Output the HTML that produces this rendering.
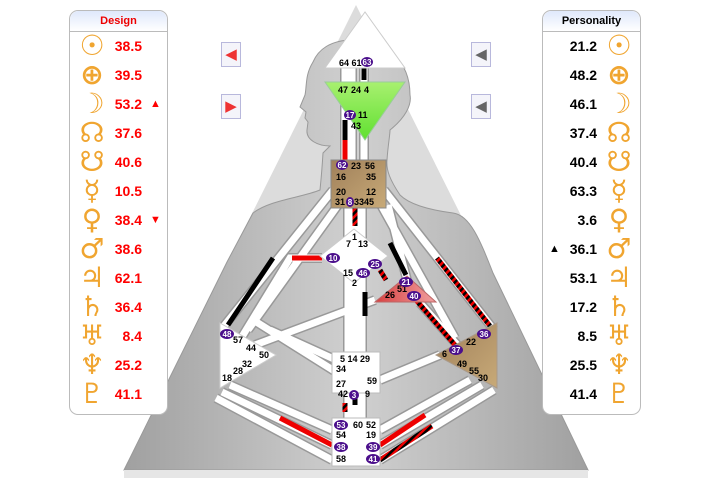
<!DOCTYPE html>
<html><head><meta charset="utf-8"><style>
body{margin:0;width:727px;height:488px;background:#fff;overflow:hidden;position:relative;font-family:"Liberation Sans",sans-serif}
.panel{position:absolute;top:10px;width:97px;height:403px;border:1px solid #bbb;border-radius:9px;background:#fff;z-index:2}
.panel .hd{height:20px;border-bottom:1px solid #bbb;border-radius:9px 9px 0 0;background:linear-gradient(#dfe8fb,#fff);font-size:11px;font-weight:bold;text-align:center;line-height:20px}
.row{position:absolute;height:29px;line-height:29px;font-weight:bold;font-size:14px;width:97px}
.g{position:absolute;color:#f0a530;font-family:"DejaVu Sans",sans-serif;font-weight:bold;font-size:28px;top:-1px;width:26px;text-align:center}
.n{position:absolute;text-align:right;width:50px}
.btn{position:absolute;width:18px;height:23px;border:1px solid #b8b8dc;background:#f4f4fa;font-size:15px;line-height:23px;text-align:center}
</style></head><body>
<svg width="727" height="488" style="position:absolute;left:0;top:0">
<defs>
<linearGradient id="bg" x1="0" x2="1"><stop offset="0" stop-color="#a0a0a0"/><stop offset=".5" stop-color="#d0d0d0"/><stop offset="1" stop-color="#a0a0a0"/></linearGradient>
<linearGradient id="tan" x1="0" y1="0" x2="1" y2="1"><stop offset="0" stop-color="#a0805a"/><stop offset="1" stop-color="#c8aa78"/></linearGradient>
<linearGradient id="grn" x1="0" y1="0" x2="0" y2="1"><stop offset="0" stop-color="#a8f070"/><stop offset="1" stop-color="#60e030"/></linearGradient>
<linearGradient id="ego" x1="0" x2="1"><stop offset="0" stop-color="#d84040"/><stop offset="1" stop-color="#f0a0a0"/></linearGradient>
<pattern id="st" width="5" height="5" patternUnits="userSpaceOnUse" patternTransform="rotate(45)"><rect width="5" height="5" fill="#e00"/><rect width="2.5" height="5" fill="#000"/></pattern>
</defs>
<polygon points="356,5 124,470 588,470" fill="#dcdcdc"/>
<path d="M330,146 L323,153 C322,170 321,180 320,190 C300,198 270,200 253,213 L227,262 L124,470 L588,470 L493,273 C480,240 470,215 453,213 C430,210 410,205 400,195 C390,180 386,170 387,160 C388,145 390,135 390,130 C405,118 412,105 410,95 C410,60 385,40 353,40 C330,40 318,50 313,62 C305,75 307,85 305,95 L300,107 L306,112 L305,118 L308,122 L307,130 C306,140 318,146 330,146 Z" fill="url(#bg)" stroke="#999" stroke-width="1"/>
<rect x="124" y="470" width="464" height="8" fill="#e6e6e6"/>
<g stroke-linecap="butt" fill="none">
<g stroke="#999" stroke-width="10">
<path d="M345,68V160M352,68V160M364,68V160M348,208V240M355,208V235M362,208V240M348,270V352M355,270V352M362,270V352M333,190L224,326M338,205L248,330M384,190L494,330M381,205L455,338M388,205L407,280M420,303L460,348M375,300L255,345M250,318L336,372M380,380L440,355M322,258L290,258L240,340M348,393V418M355,393V418M362,393V418M332,430L230,385M332,445L222,392M332,460L216,398M380,430L470,380M380,445L482,385M380,460L494,390M270,330L336,360"/>
</g>
<g stroke="#fff" stroke-width="7">
<path d="M345,68V160M352,68V160M364,68V160M348,208V240M355,208V235M362,208V240M348,270V352M355,270V352M362,270V352M333,190L224,326M338,205L248,330M384,190L494,330M381,205L455,338M388,205L407,280M420,303L460,348M375,300L255,345M250,318L336,372M380,380L440,355M322,258L290,258L240,340M348,393V418M355,393V418M362,393V418M332,430L230,385M332,445L222,392M332,460L216,398M380,430L470,380M380,445L482,385M380,460L494,390M270,330L336,360"/>
</g>
<path d="M364,68V80" stroke="#000" stroke-width="5"/>
<path d="M345,120V140" stroke="#000" stroke-width="5"/>
<path d="M345,140V160" stroke="#e00" stroke-width="5"/>
<path d="M355,208V226" stroke="url(#st)" stroke-width="5"/>
<path d="M273,258L228,325" stroke="#000" stroke-width="5"/>
<path d="M322,258H292" stroke="#e00" stroke-width="5"/>
<path d="M437,258L490,326" stroke="url(#st)" stroke-width="5"/>
<path d="M390,243L406,275" stroke="#000" stroke-width="5"/>
<path d="M380,270L386,280" stroke="url(#st)" stroke-width="5"/>
<path d="M416,300L455,345" stroke="url(#st)" stroke-width="5"/>
<path d="M365,292V316" stroke="#000" stroke-width="5"/>
<path d="M355,393V405" stroke="#000" stroke-width="5"/>
<path d="M345,403V412" stroke="url(#st)" stroke-width="5"/>
<path d="M332,445L280,418" stroke="#e00" stroke-width="5"/>
<path d="M380,445L425,415" stroke="#e00" stroke-width="5"/>
<path d="M380,460L432,426" stroke="url(#st)" stroke-width="5"/>
</g>
<polygon points="365,12 325,68 405,68" fill="#fff" stroke="#ccc"/>
<polygon points="325,82 405,82 365,140" fill="url(#grn)" stroke="#9c9"/>
<rect x="331" y="160" width="55" height="48" fill="url(#tan)" stroke="#888"/>
<polygon points="354,229 388,256 354,283 320,256" fill="#fff" stroke="#ccc"/>
<polygon points="407,276 375,302 436,302" fill="url(#ego)" stroke="#b66"/>
<polygon points="220,323 276,355 220,388" fill="#fff" stroke="#ccc"/>
<polygon points="497,323 436,355 497,388" fill="url(#tan)" stroke="#a98"/>
<rect x="332" y="352" width="48" height="41" fill="#fff" stroke="#bbb"/>
<rect x="332" y="418" width="48" height="48" fill="#fff" stroke="#bbb"/>
<g font-family="Liberation Sans" font-size="9" font-weight="bold" fill="#000">
<text x="339" y="66">64 61</text>
<text x="338" y="93">47</text><text x="351" y="93">24</text><text x="364" y="93">4</text>
<text x="358" y="118">11</text><text x="351" y="129">43</text>
<text x="351" y="169">23</text><text x="365" y="169">56</text><text x="336" y="180">16</text><text x="366" y="180">35</text>
<text x="336" y="195">20</text><text x="366" y="195">12</text><text x="335" y="205">31</text><text x="354" y="205">3345</text>
<text x="352" y="240">1</text><text x="346" y="247">7</text><text x="358" y="247">13</text>
<text x="343" y="276">15</text><text x="352" y="286">2</text>
<text x="397" y="292">51</text><text x="385" y="298">26</text>
<text x="233" y="343">57</text><text x="246" y="351">44</text><text x="259" y="358">50</text>
<text x="242" y="367">32</text><text x="233" y="374">28</text><text x="222" y="381">18</text>
<text x="466" y="345">22</text><text x="442" y="357">6</text><text x="457" y="367">49</text><text x="469" y="374">55</text><text x="478" y="381">30</text>
<text x="340" y="362">5 14 29</text><text x="336" y="372">34</text><text x="336" y="387">27</text><text x="367" y="384">59</text>
<text x="338" y="397">42</text><text x="365" y="397">9</text>
<text x="353" y="428">60</text><text x="366" y="428">52</text><text x="336" y="438">54</text><text x="366" y="438">19</text><text x="336" y="462">58</text>
</g>
<g fill="#4b0f8c"><ellipse cx="367" cy="62" rx="6" ry="5"/><ellipse cx="350" cy="115" rx="6" ry="5"/><ellipse cx="342" cy="165" rx="6" ry="5"/><ellipse cx="350" cy="202" rx="4" ry="5"/><ellipse cx="333" cy="258" rx="7" ry="5"/><ellipse cx="375" cy="264" rx="7" ry="5"/><ellipse cx="363" cy="273" rx="7" ry="5"/><ellipse cx="406" cy="282" rx="7" ry="5"/><ellipse cx="414" cy="296" rx="7" ry="5"/><ellipse cx="227" cy="334" rx="7" ry="5"/><ellipse cx="484" cy="334" rx="7" ry="5"/><ellipse cx="456" cy="350" rx="7" ry="5"/><ellipse cx="354" cy="395" rx="5" ry="5"/><ellipse cx="341" cy="425" rx="7" ry="5"/><ellipse cx="341" cy="447" rx="7" ry="5"/><ellipse cx="373" cy="447" rx="7" ry="5"/><ellipse cx="373" cy="459" rx="7" ry="5"/></g>
<g font-family="Liberation Sans" font-size="8" font-weight="bold" fill="#fff" text-anchor="middle"><text x="367" y="65">63</text><text x="350" y="118">17</text><text x="342" y="168">62</text><text x="350" y="205">8</text><text x="333" y="261">10</text><text x="375" y="267">25</text><text x="363" y="276">46</text><text x="406" y="285">21</text><text x="414" y="299">40</text><text x="227" y="337">48</text><text x="484" y="337">36</text><text x="456" y="353">37</text><text x="354" y="398">3</text><text x="341" y="428">53</text><text x="341" y="450">38</text><text x="373" y="450">39</text><text x="373" y="462">41</text></g>
</svg>
<div class="btn" style="left:221px;top:42px;color:#e33">&#9664;</div>
<div class="btn" style="left:221px;top:94px;color:#e33">&#9654;</div>
<div class="btn" style="left:471px;top:42px;color:#666">&#9664;</div>
<div class="btn" style="left:471px;top:94px;color:#666">&#9664;</div>
<div class="panel" style="left:69px"><div class="hd" style="color:#e00">Design</div>
<div class="row" style="top:21px;color:#f00"><span class="g" style="left:9px">☉</span><span class="n" style="left:22px">38.5</span></div>
<div class="row" style="top:50px;color:#f00"><span class="g" style="left:9px">⊕</span><span class="n" style="left:22px">39.5</span></div>
<div class="row" style="top:79px;color:#f00"><span class="g" style="left:9px">☽</span><span class="n" style="left:22px">53.2</span><span style="position:absolute;left:80px;font-size:11px">▲</span></div>
<div class="row" style="top:108px;color:#f00"><span class="g" style="left:9px">☊</span><span class="n" style="left:22px">37.6</span></div>
<div class="row" style="top:137px;color:#f00"><span class="g" style="left:9px">☋</span><span class="n" style="left:22px">40.6</span></div>
<div class="row" style="top:166px;color:#f00"><span class="g" style="left:9px">☿</span><span class="n" style="left:22px">10.5</span></div>
<div class="row" style="top:195px;color:#f00"><span class="g" style="left:9px">♀</span><span class="n" style="left:22px">38.4</span><span style="position:absolute;left:80px;font-size:11px">▼</span></div>
<div class="row" style="top:224px;color:#f00"><span class="g" style="left:9px">♂</span><span class="n" style="left:22px">38.6</span></div>
<div class="row" style="top:253px;color:#f00"><span class="g" style="left:9px">♃</span><span class="n" style="left:22px">62.1</span></div>
<div class="row" style="top:282px;color:#f00"><span class="g" style="left:9px">♄</span><span class="n" style="left:22px">36.4</span></div>
<div class="row" style="top:311px;color:#f00"><span class="g" style="left:9px">♅</span><span class="n" style="left:22px">8.4</span></div>
<div class="row" style="top:340px;color:#f00"><span class="g" style="left:9px">♆</span><span class="n" style="left:22px">25.2</span></div>
<div class="row" style="top:369px;color:#f00"><span class="g" style="left:9px">♇</span><span class="n" style="left:22px">41.1</span></div>
</div>
<div class="panel" style="left:542px"><div class="hd" style="color:#000">Personality</div>
<div class="row" style="top:21px"><span class="n" style="left:4px">21.2</span><span class="g" style="left:63px">☉</span></div>
<div class="row" style="top:50px"><span class="n" style="left:4px">48.2</span><span class="g" style="left:63px">⊕</span></div>
<div class="row" style="top:79px"><span class="n" style="left:4px">46.1</span><span class="g" style="left:63px">☽</span></div>
<div class="row" style="top:108px"><span class="n" style="left:4px">37.4</span><span class="g" style="left:63px">☊</span></div>
<div class="row" style="top:137px"><span class="n" style="left:4px">40.4</span><span class="g" style="left:63px">☋</span></div>
<div class="row" style="top:166px"><span class="n" style="left:4px">63.3</span><span class="g" style="left:63px">☿</span></div>
<div class="row" style="top:195px"><span class="n" style="left:4px">3.6</span><span class="g" style="left:63px">♀</span></div>
<div class="row" style="top:224px"><span style="position:absolute;left:6px;font-size:11px">▲</span><span class="n" style="left:4px">36.1</span><span class="g" style="left:63px">♂</span></div>
<div class="row" style="top:253px"><span class="n" style="left:4px">53.1</span><span class="g" style="left:63px">♃</span></div>
<div class="row" style="top:282px"><span class="n" style="left:4px">17.2</span><span class="g" style="left:63px">♄</span></div>
<div class="row" style="top:311px"><span class="n" style="left:4px">8.5</span><span class="g" style="left:63px">♅</span></div>
<div class="row" style="top:340px"><span class="n" style="left:4px">25.5</span><span class="g" style="left:63px">♆</span></div>
<div class="row" style="top:369px"><span class="n" style="left:4px">41.4</span><span class="g" style="left:63px">♇</span></div>
</div>
</body></html>
